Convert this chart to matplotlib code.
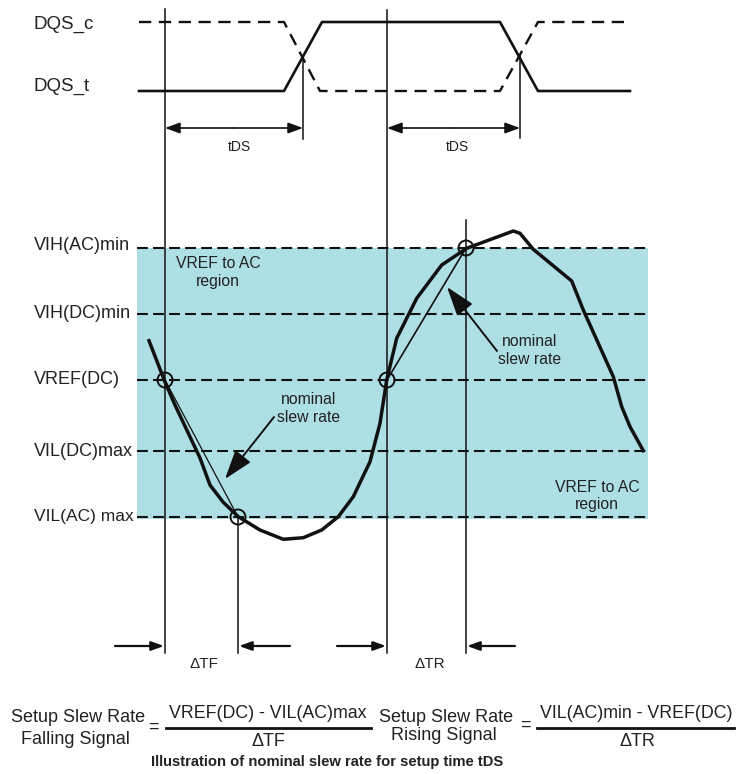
"""Nominal slew rate for setup time tDS, redrawn on a pixel-sized canvas."""
import matplotlib
matplotlib.use("Agg")
import matplotlib.pyplot as plt
from matplotlib.patches import Circle, Rectangle

plt.rcParams["font.family"] = ["Liberation Sans", "DejaVu Sans"]

INK = "#111111"
TEXT = "#222222"
FILL = "#AEDFE5"

# clock waveforms
DQS_T_X = [139, 284, 322, 500, 538, 630]
DQS_T_Y = [91, 91, 22, 22, 91, 91]
DQS_C_X = [139, 284, 320, 500, 538, 630]
DQS_C_Y = [22, 22, 91, 91, 22, 22]

# input signal
SIGNAL_X = [149, 165, 175, 200, 210, 223, 238.3, 260, 283.3, 303.3, 321.7,
            338.3, 353.3, 370, 380, 386.7, 396.7, 416.7, 441.7, 466.7, 513.3, 520,
            533.3, 571.7, 583.3, 613.3, 621.7, 630, 643.3]
SIGNAL_Y = [340.7, 382, 405, 458, 485, 502, 516.7, 530, 539.3, 537.7, 530,
            516.7, 496.7, 461.7, 423.3, 380, 338.3, 298.3, 265, 248.3, 231, 233.3,
            249.3, 281, 310, 376.7, 406.7, 426.7, 450.7]

# voltage levels
LEVEL_NAMES = ["VIH(AC)min", "VIH(DC)min", "VREF(DC)", "VIL(DC)max", "VIL(AC) max"]
LEVEL_Y = [248, 314, 380, 451, 517]
LEVEL_LABEL_Y = [246, 313, 379, 451, 517]
LEVEL_FONT = [13, 13, 13, 13, 12.5]

# vertical markers: x, top, bottom
V_X = [165, 387, 303, 520, 238, 466]
V_TOP = [9, 10, 58, 56, 517, 220]
V_BOTTOM = [653, 653, 139, 138, 653, 653]

# crossing points
CROSS_X = [165, 238, 387, 466]
CROSS_Y = [380, 517, 380, 248]

fig = plt.figure(figsize=(7.37, 7.74), dpi=100)
ax = fig.add_axes([0, 0, 1, 1])
ax.set_xlim(0, 737)
ax.set_ylim(774, 0)
ax.axis("off")

ax.add_patch(Rectangle((137, 248), 511, 271, facecolor=FILL, edgecolor="none", zorder=0))

for y, label_y, size, name in zip(LEVEL_Y, LEVEL_LABEL_Y, LEVEL_FONT, LEVEL_NAMES):
    ax.plot([137, 648], [y, y], color=INK, lw=1.5, ls=(0, (5.2, 2.5)), zorder=1)
    ax.text(34, label_y, name, ha="left", va="center", fontsize=size, color=TEXT)

for x, top, bottom in zip(V_X, V_TOP, V_BOTTOM):
    ax.plot([x, x], [top, bottom], color=INK, lw=1.1, zorder=2)

ax.plot(DQS_C_X, DQS_C_Y, color=INK, lw=1.7, ls=(0, (5.2, 3.2)), zorder=3)
ax.plot(DQS_T_X, DQS_T_Y, color=INK, lw=1.9, zorder=3)
ax.text(34, 24, "DQS_c", ha="left", va="center", fontsize=13.5, color=TEXT)
ax.text(34, 86, "DQS_t", ha="left", va="center", fontsize=13.5, color=TEXT)

ax.plot(SIGNAL_X, SIGNAL_Y, color=INK, lw=2.5, solid_joinstyle="round", zorder=3)

# nominal slew lines
ax.plot([165, 238], [380, 517], color=INK, lw=0.9, zorder=3)
ax.plot([387, 466], [380, 248], color=INK, lw=1.2, zorder=3)

for x, y in zip(CROSS_X, CROSS_Y):
    ax.add_patch(Circle((x, y), 7.5, facecolor="none", edgecolor=INK, lw=1.4, zorder=4))


def arrow(start, end, length=0.3, half_width=0.11, width=1.2):
    ax.annotate("", xy=end, xytext=start, zorder=5,
                arrowprops=dict(arrowstyle=f"-|>,head_length={length},head_width={half_width}",
                                color=INK, lw=width, shrinkA=0, shrinkB=0, mutation_scale=30))


# tDS spans
for x0, x1 in [(165, 303), (387, 520)]:
    arrow(((x0 + x1) / 2, 128), (x0, 128))
    arrow(((x0 + x1) / 2, 128), (x1, 128))
ax.text(239, 147, "tDS", ha="center", va="center", fontsize=10, color=TEXT)
ax.text(457, 147, "tDS", ha="center", va="center", fontsize=10, color=TEXT)

# delta T arrows
for start, end in [(115, 164), (290, 239), (337, 386), (515, 467)]:
    arrow((start, 646), (end, 646), length=0.25, half_width=0.09, width=1.6)
ax.text(204, 664, "\u0394TF", ha="center", va="center", fontsize=11, color=TEXT)
ax.text(430, 664, "\u0394TR", ha="center", va="center", fontsize=11, color=TEXT)

# slew rate callouts
arrow((274, 417), (225, 479), length=0.6, half_width=0.2, width=1.4)
arrow((497, 351), (447, 287), length=0.6, half_width=0.2, width=1.4)
for x, y, label in [(309, 408, "nominal\nslew rate"), (530, 350, "nominal\nslew rate"),
                    (218, 272.5, "VREF to AC\nregion"), (597, 496, "VREF to AC\nregion")]:
    ax.text(x, y, label, ha="center", va="center", fontsize=11.3, color=TEXT, linespacing=1.25)

# formulas
ax.text(78, 718, "Setup Slew Rate", ha="center", va="center", fontsize=13, color=TEXT)
ax.text(75, 739, "Falling Signal", ha="center", va="center", fontsize=13, color=TEXT)
ax.text(153, 727, "=", ha="center", va="center", fontsize=13, color=TEXT)
ax.text(268, 714, "VREF(DC) - VIL(AC)max", ha="center", va="center", fontsize=12.8, color=TEXT)
ax.plot([166, 371], [728, 728], color=INK, lw=2)
ax.text(268, 742, "\u0394TF", ha="center", va="center", fontsize=13, color=TEXT)

ax.text(446, 717, "Setup Slew Rate", ha="center", va="center", fontsize=13, color=TEXT)
ax.text(444, 735, "Rising Signal", ha="center", va="center", fontsize=13, color=TEXT)
ax.text(525, 725, "=", ha="center", va="center", fontsize=13, color=TEXT)
ax.text(636, 714, "VIL(AC)min - VREF(DC)", ha="center", va="center", fontsize=12.8, color=TEXT)
ax.plot([537, 734], [728, 728], color=INK, lw=2)
ax.text(637, 742, "\u0394TR", ha="center", va="center", fontsize=13, color=TEXT)

ax.text(327, 762, "Illustration of nominal slew rate for setup time tDS",
        ha="center", va="center", fontsize=10.6, fontweight="bold", color=TEXT)

fig.savefig("out.png", dpi=100)
